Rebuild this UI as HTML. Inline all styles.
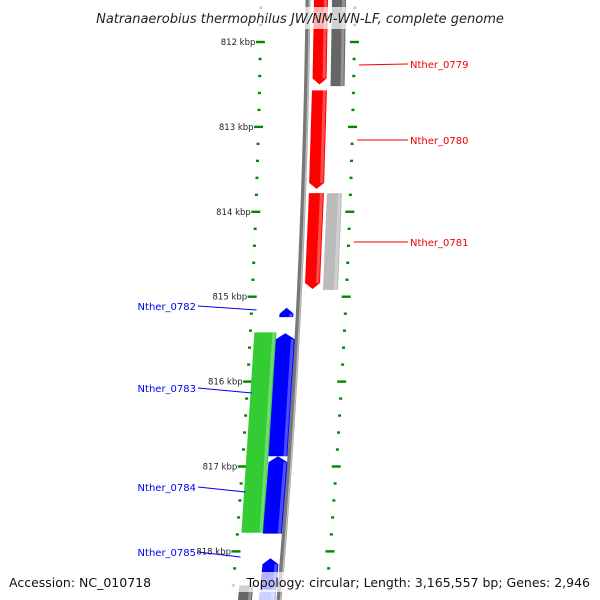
<!DOCTYPE html>
<html><head><meta charset="utf-8"><style>
body{margin:0;background:#fff}
svg{display:block;font-family:"DejaVu Sans","Liberation Sans",sans-serif}
</style></head><body>
<svg id="c" width="600" height="600" viewBox="0 0 600 600">
<g id="ticks"></g><g id="genes"></g><g id="labels"></g>
</svg>
<script>
const tickKbp=[812,813,814,815,816,817,818];
const minorPerKbp=5;
const geneNames=["Nther_0779","grey_a","Nther_0780","Nther_0781","grey_b","Nther_0782","Nther_0783","Nther_0783b","Nther_0784","Nther_0785","grey_c","lightblue_c"];
const geneStart=[811.45,811.45,812.57,813.78,813.78,815.13,815.42,815.43,816.88,818.08,818.40,818.45];
const geneEnd=[812.5,812.52,813.73,814.91,814.92,815.24,817.78,816.88,817.79,818.8,818.8,818.8];
const geneStrand=[-1,0,-1,-1,0,1,0,1,1,1,0,0];
const geneColor=["#f00","#666","#f00","#f00","#bbb","#00f","#3c3","#00f","#00f","#00f","#666","#ccd0ff"];
const geneLane=[13,31,13,13,31,-12,-32,-12,-12,-12,-34,-12];
const geneWidth=[14,14,15,15,15,14,22,19,19,16,14,16];
const labelText=["Nther_0779","Nther_0780","Nther_0781","Nther_0782","Nther_0783","Nther_0784","Nther_0785"];
const labelSide=[1,1,1,-1,-1,-1,-1];
const labelY=[64,140,242,306,388,487,552];
const labelGeneY=[65,140,242,310,393,492,557];

const NS="http://www.w3.org/2000/svg";
const svg=document.getElementById('c');
function yOf(k){return 42+(k-812)*84.9;}
function bx(y){return 308-0.0117*y-0.000061*y*y;}
function mk(t,a,p){const e=document.createElementNS(NS,t);for(const k in a)e.setAttribute(k,a[k]);p.appendChild(e);return e;}

const G=document.getElementById('genes'),T=document.getElementById('ticks'),L=document.getElementById('labels');
// backbone
let pts=[];for(let y=0;y<=600;y+=10)pts.push(bx(y)+","+y);
const bb=mk('polyline',{points:pts.join(' '),fill:'none',stroke:'#777','stroke-width':5},G);

const bb2=mk('polyline',{points:pts.map(p=>{const[a,b]=p.split(',');return (+a+1.5)+","+b}).join(' '),fill:'none',stroke:'#bbb','stroke-width':1.5},G);


// ticks
for(let k=811.4;k<=818.95;k+=1/minorPerKbp){
  const kk=Math.round(k*minorPerKbp)/minorPerKbp;const y=yOf(kk);if(y<0||y>600)continue;
  const major=Math.abs(kk-Math.round(kk))<1e-6;
  for(const s of[-1,1]){
    const x=bx(y)+s*47;const w=major?9:3;
    const r=mk('rect',{x:x-w/2,y:y-1.2,width:w,height:2.4,fill:'#080'},T);
    
  }
}
tickKbp.forEach(k=>{const y=yOf(k);
  const t=mk('text',{x:bx(y)-52,y:y+3,'font-size':8.5,'text-anchor':'end',fill:'#222'},T);t.textContent=k+" kbp";
  });

// genes
geneNames.forEach((n,i)=>{
  const y0=yOf(geneStart[i]),y1=yOf(geneEnd[i]);const w=geneWidth[i];
  const c0=bx(y0)+geneLane[i],c1=bx(y1)+geneLane[i];const h=6;
  let p;
  if(geneStrand[i]==-1)p=[[c0-w/2,y0],[c0+w/2,y0],[c1+w/2,y1-h],[c1,y1],[c1-w/2,y1-h]];
  else if(geneStrand[i]==1)p=[[c0,y0],[c0+w/2,y0+h],[c1+w/2,y1],[c1-w/2,y1],[c0-w/2,y0+h]];
  else p=[[c0-w/2,y0],[c0+w/2,y0],[c1+w/2,y1],[c1-w/2,y1]];
  const g=mk('polygon',{points:p.map(q=>q.join(',')).join(' '),fill:geneColor[i]},G);
  
  
  const hl=mk('polygon',{points:[[c0+w/2-4,y0+(geneStrand[i]==1?h:0)],[c0+w/2-1,y0+(geneStrand[i]==1?h:0)],[c1+w/2-1,y1-(geneStrand[i]==-1?h:0)],[c1+w/2-4,y1-(geneStrand[i]==-1?h:0)]].map(q=>q.join(',')).join(' '),fill:'#fff',opacity:0.3},G);
  
});

// labels
labelText.forEach((t,i)=>{
  const col=labelSide[i]>0?'#e00':'#00e';const y=labelY[i];
  let x1,x2,tx,anchor;
  if(labelSide[i]>0){x1=bx(labelGeneY[i])+52;x2=408;tx=410;anchor='start';}
  else{x1=bx(labelGeneY[i])-42;x2=198;tx=196;anchor='end';}
  const ln=mk('line',{x1:x1,y1:labelGeneY[i],x2:x2,y2:y,stroke:col,'stroke-width':1},L);
  
  const tt=mk('text',{x:tx,y:y+4,'font-size':10,'text-anchor':anchor,fill:col},L);tt.textContent=t;
  
});
</script>
<svg width="600" height="600" style="position:absolute;left:0;top:0">
<rect x="70" y="7" width="460" height="22" fill="#fff" opacity="0.7"/>
<text x="300" y="23" font-size="13" font-style="italic" text-anchor="middle" fill="#222" font-family="DejaVu Sans,sans-serif">Natranaerobius thermophilus JW/NM-WN-LF, complete genome</text>
<rect x="0" y="572" width="600" height="20" fill="#fff" opacity="0.7"/>
<text x="9" y="587" font-size="12.5" fill="#111" font-family="DejaVu Sans,sans-serif">Accession: NC_010718</text>
<text x="590" y="587" font-size="12.5" text-anchor="end" fill="#111" font-family="DejaVu Sans,sans-serif">Topology: circular; Length: 3,165,557 bp; Genes: 2,946</text>
</svg>
</body></html>
